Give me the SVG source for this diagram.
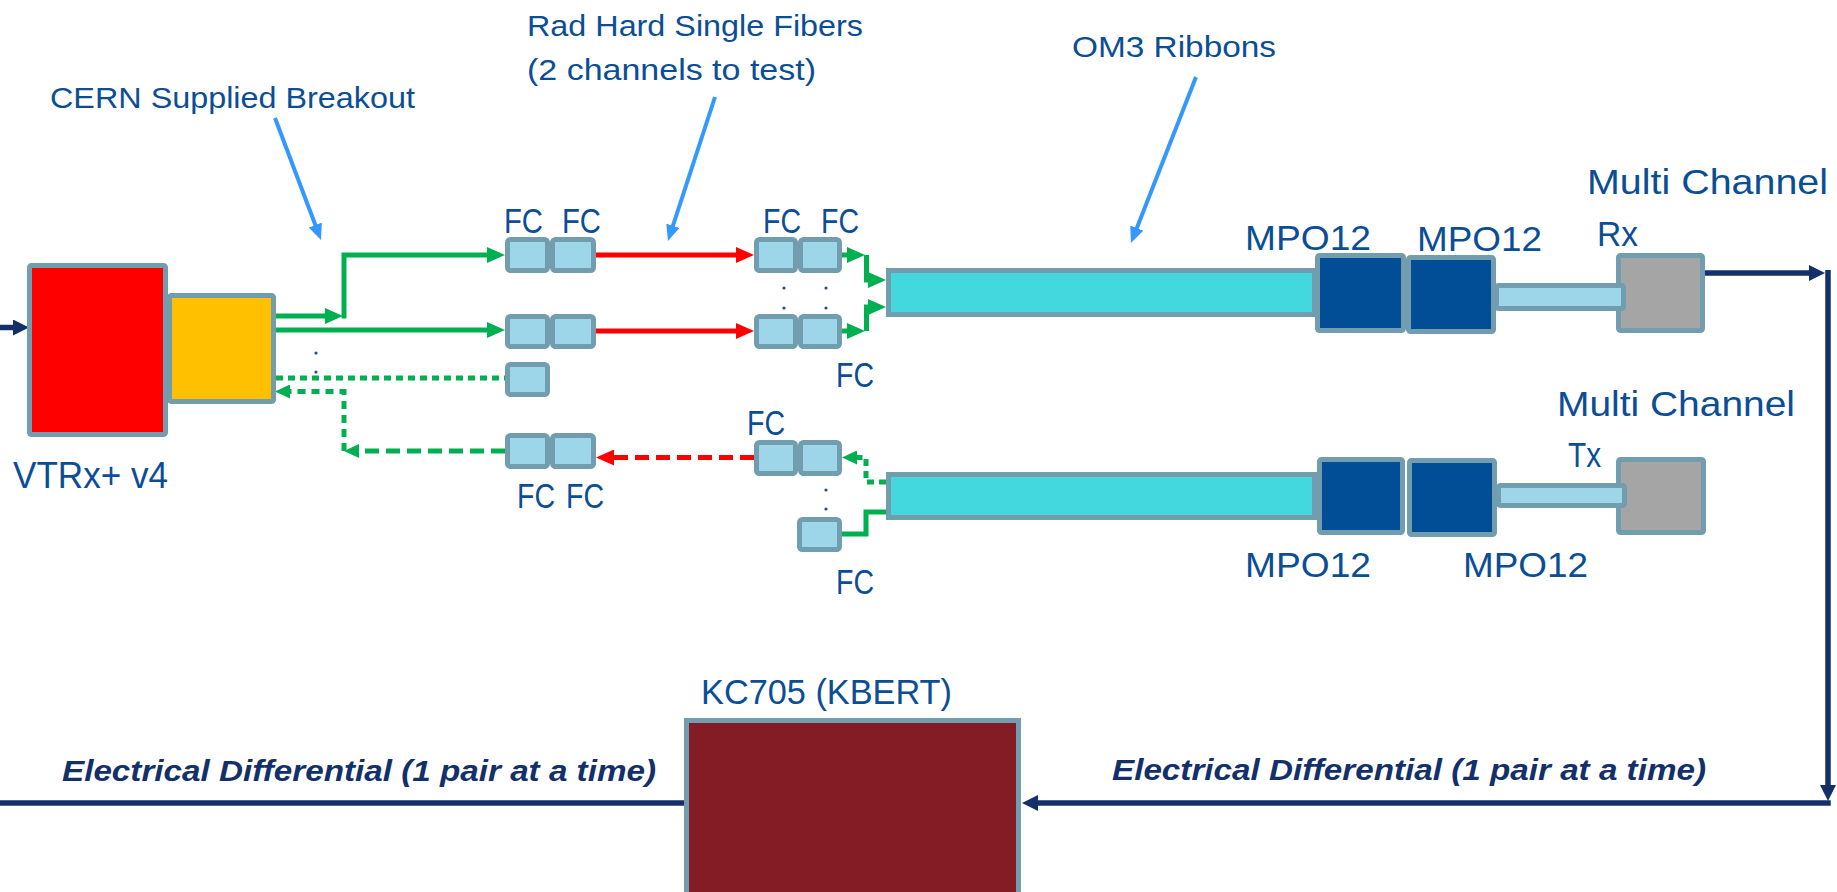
<svg xmlns="http://www.w3.org/2000/svg" width="1837" height="892" viewBox="0 0 1837 892">
<style>
.box{stroke:#719DAE;stroke-width:5;}
.fc{fill:#9DD5E9;}
.ribbon{fill:#43D7DE;}
.mpo{fill:#024E96;}
.gray{fill:#A5A5A5;}
.lbl{font-family:"Liberation Sans",Arial,sans-serif;fill:#0B4E96;}
.el{font-family:"Liberation Sans",Arial,sans-serif;font-weight:bold;font-style:italic;fill:#13306A;font-size:30px;}
.g{stroke:#00B050;fill:none;stroke-width:5;}
.r{stroke:#FF0000;fill:none;stroke-width:5;}
.n{stroke:#13306A;fill:none;stroke-width:5.5;}
.b{stroke:#3399FF;fill:none;stroke-width:4;}
.dot{fill:#1F4E8C;}
</style>
<defs>
<marker id="mG" markerUnits="userSpaceOnUse" markerWidth="18" markerHeight="16" refX="4" refY="8" orient="auto"><path d="M0,0 L18,8 L0,16 z" fill="#00B050"/></marker>
<marker id="mGt" markerUnits="userSpaceOnUse" markerWidth="15" markerHeight="14" refX="3" refY="7" orient="auto"><path d="M0,0 L15,7 L0,14 z" fill="#00B050"/></marker>
<marker id="mR" markerUnits="userSpaceOnUse" markerWidth="18" markerHeight="16" refX="4" refY="8" orient="auto"><path d="M0,0 L18,8 L0,16 z" fill="#FF0000"/></marker>
<marker id="mN" markerUnits="userSpaceOnUse" markerWidth="16" markerHeight="16" refX="4" refY="8" orient="auto"><path d="M0,0 L16,8 L0,16 z" fill="#13306A"/></marker>
<marker id="mB" markerUnits="userSpaceOnUse" markerWidth="16" markerHeight="14" refX="3" refY="7" orient="auto"><path d="M0,0 L16,7 L0,14 z" fill="#3399FF"/></marker>
</defs>
<rect width="1837" height="892" fill="#FFFFFF"/>

<g id="connectors">
<!-- green solid -->
<path class="g" d="M275,316 H329" marker-end="url(#mG)"/>
<path class="g" d="M344,318.5 V255 H491" marker-end="url(#mG)"/>
<path class="g" d="M275,330 H491" marker-end="url(#mG)"/>
<path class="g" d="M842,255 H851" marker-end="url(#mG)"/>
<path class="g" d="M866.5,255 V280 H872" marker-end="url(#mG)"/>
<path class="g" d="M842,331 H851" marker-end="url(#mG)"/>
<path class="g" d="M866.5,331 V307 H872" marker-end="url(#mG)"/>
<!-- red solid -->
<path class="r" d="M596,255 H740" marker-end="url(#mR)"/>
<path class="r" d="M596,331 H740" marker-end="url(#mR)"/>
<!-- red dashed -->
<path class="r" stroke-width="4" stroke-dasharray="14 7" d="M754,457.5 H610" marker-end="url(#mR)"/>
<!-- green dashed -->
<path class="g" stroke-width="2" stroke-dasharray="7 5" d="M276,378 H505"/>
<path class="g" stroke-width="3.5" stroke-dasharray="14 7" d="M505,451 H356" marker-end="url(#mGt)"/>
<path class="g" stroke-width="2.5" stroke-dasharray="8 6" d="M344,451 V391.5 H287" marker-end="url(#mGt)"/>
<path class="g" stroke-width="2.5" stroke-dasharray="7 5" d="M886,482 H866 V457.5 H854" marker-end="url(#mGt)"/>
<path class="g" stroke-width="2" d="M886,512 H866 V534 H842"/>
<!-- navy electrical -->
<path class="n" d="M0,327.5 H17" marker-end="url(#mN)"/>
<path class="n" d="M1705,273 H1813" marker-end="url(#mN)"/>
<path class="n" d="M1828,270 V789" marker-end="url(#mN)"/>
<path class="n" d="M1830.75,803 H1034" marker-end="url(#mN)"/>
<path class="n" d="M0,803 H684"/>
<!-- annotation pointers -->
<path class="b" d="M275,118 L316.4,227.8" marker-end="url(#mB)"/>
<path class="b" d="M715,97 L672,228.6" marker-end="url(#mB)"/>
<path class="b" d="M1196,77 L1135.7,230.9" marker-end="url(#mB)"/>
<!-- continuation dots -->
<circle class="dot" cx="316" cy="353" r="1.6"/>
<circle class="dot" cx="316" cy="372" r="1.6"/>
<circle class="dot" cx="784" cy="288" r="1.6"/>
<circle class="dot" cx="784" cy="308" r="1.6"/>
<circle class="dot" cx="826" cy="288" r="1.6"/>
<circle class="dot" cx="826" cy="308" r="1.6"/>
<circle class="dot" cx="826" cy="490" r="1.6"/>
<circle class="dot" cx="826" cy="509" r="1.6"/>
</g>

<g id="vtrx">
<rect class="box" x="29.5" y="265.5" width="136" height="169" rx="2" fill="#FF0000"/>
<text class="lbl" x="13" y="488" font-size="37" textLength="155" lengthAdjust="spacingAndGlyphs">VTRx+ v4</text>
</g>
<g id="breakout">
<rect class="box" x="169.5" y="295.5" width="104" height="106" rx="2" fill="#FFC000"/>
</g>

<g id="fc-left">
<rect class="box fc" x="507.5" y="239.5" width="40" height="31" rx="3"/>
<rect class="box fc" x="552.5" y="239.5" width="41" height="31" rx="3"/>
<rect class="box fc" x="507.5" y="316.5" width="40" height="30" rx="3"/>
<rect class="box fc" x="552.5" y="316.5" width="41" height="30" rx="3"/>
<rect class="box fc" x="507.5" y="364.5" width="40" height="30" rx="3"/>
<rect class="box fc" x="507.5" y="435.5" width="40" height="31" rx="3"/>
<rect class="box fc" x="552.5" y="435.5" width="41" height="31" rx="3"/>
<text class="lbl" x="504" y="233" font-size="35" textLength="39" lengthAdjust="spacingAndGlyphs">FC</text>
<text class="lbl" x="562" y="233" font-size="35" textLength="39" lengthAdjust="spacingAndGlyphs">FC</text>
<text class="lbl" x="517" y="508" font-size="35" textLength="38" lengthAdjust="spacingAndGlyphs">FC</text>
<text class="lbl" x="566" y="508" font-size="35" textLength="38" lengthAdjust="spacingAndGlyphs">FC</text>
</g>

<g id="fc-right">
<rect class="box fc" x="756.5" y="239.5" width="39" height="31" rx="3"/>
<rect class="box fc" x="800.5" y="239.5" width="39" height="31" rx="3"/>
<rect class="box fc" x="756.5" y="316.5" width="39" height="30" rx="3"/>
<rect class="box fc" x="800.5" y="316.5" width="39" height="30" rx="3"/>
<rect class="box fc" x="756.5" y="442.5" width="39" height="31" rx="3"/>
<rect class="box fc" x="800.5" y="442.5" width="39" height="31" rx="3"/>
<rect class="box fc" x="799.5" y="519.5" width="40" height="30" rx="3"/>
<text class="lbl" x="763" y="233" font-size="35" textLength="38" lengthAdjust="spacingAndGlyphs">FC</text>
<text class="lbl" x="821" y="233" font-size="35" textLength="38" lengthAdjust="spacingAndGlyphs">FC</text>
<text class="lbl" x="836" y="387" font-size="35" textLength="38" lengthAdjust="spacingAndGlyphs">FC</text>
<text class="lbl" x="747" y="435" font-size="35" textLength="38" lengthAdjust="spacingAndGlyphs">FC</text>
<text class="lbl" x="836" y="594" font-size="35" textLength="38" lengthAdjust="spacingAndGlyphs">FC</text>
</g>

<g id="rx-chain">
<rect class="box ribbon" x="888.5" y="270.5" width="426" height="44"/>
<rect class="box mpo" x="1317.5" y="255.5" width="86" height="75" rx="2"/>
<rect class="box mpo" x="1408.5" y="257.5" width="85" height="74" rx="2"/>
<rect class="box gray" x="1618.5" y="255.5" width="84" height="75" rx="2"/>
<rect class="box fc" x="1496.5" y="285.5" width="127" height="23" rx="2"/>
<text class="lbl" x="1245" y="250" font-size="35" textLength="126" lengthAdjust="spacingAndGlyphs">MPO12</text>
<text class="lbl" x="1417" y="251" font-size="35" textLength="125" lengthAdjust="spacingAndGlyphs">MPO12</text>
<text class="lbl" x="1587" y="194" font-size="35" textLength="241" lengthAdjust="spacingAndGlyphs">Multi Channel</text>
<text class="lbl" x="1597" y="246" font-size="35" textLength="41" lengthAdjust="spacingAndGlyphs">Rx</text>
</g>

<g id="tx-chain">
<rect class="box ribbon" x="888.5" y="474.5" width="426" height="43"/>
<rect class="box mpo" x="1319.5" y="459.5" width="83" height="73" rx="2"/>
<rect class="box mpo" x="1409.5" y="460.5" width="85" height="74" rx="2"/>
<rect class="box gray" x="1618.5" y="459.5" width="85" height="73" rx="2"/>
<rect class="box fc" x="1498.5" y="485.5" width="126" height="20" rx="2"/>
<text class="lbl" x="1245" y="577" font-size="35" textLength="126" lengthAdjust="spacingAndGlyphs">MPO12</text>
<text class="lbl" x="1463" y="577" font-size="35" textLength="125" lengthAdjust="spacingAndGlyphs">MPO12</text>
<text class="lbl" x="1557" y="416" font-size="35" textLength="238" lengthAdjust="spacingAndGlyphs">Multi Channel</text>
<text class="lbl" x="1568" y="467" font-size="35" textLength="33" lengthAdjust="spacingAndGlyphs">Tx</text>
</g>

<g id="kc705">
<rect class="box" x="686.5" y="720.5" width="332" height="200" fill="#831C25"/>
<text class="lbl" x="701" y="704" font-size="35" textLength="251" lengthAdjust="spacingAndGlyphs">KC705 (KBERT)</text>
</g>

<g id="annotations">
<text class="lbl" x="50" y="108" font-size="30" textLength="365" lengthAdjust="spacingAndGlyphs">CERN Supplied Breakout</text>
<text class="lbl" x="527" y="36" font-size="30" textLength="336" lengthAdjust="spacingAndGlyphs">Rad Hard Single Fibers</text>
<text class="lbl" x="527" y="80" font-size="30" textLength="289" lengthAdjust="spacingAndGlyphs">(2 channels to test)</text>
<text class="lbl" x="1072" y="57" font-size="30" textLength="204" lengthAdjust="spacingAndGlyphs">OM3 Ribbons</text>
<text class="el" x="62" y="781" textLength="594" lengthAdjust="spacingAndGlyphs">Electrical Differential (1 pair at a time)</text>
<text class="el" x="1112" y="780" textLength="594" lengthAdjust="spacingAndGlyphs">Electrical Differential (1 pair at a time)</text>
</g>
</svg>
